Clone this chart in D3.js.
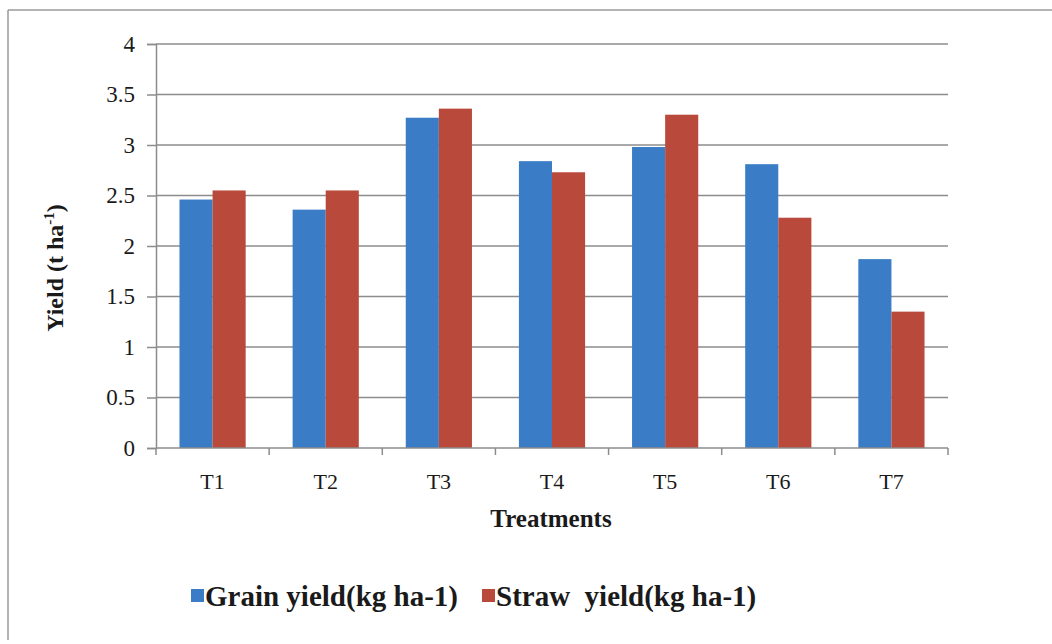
<!DOCTYPE html>
<html>
<head>
<meta charset="utf-8">
<script src="https://cdn.jsdelivr.net/npm/d3@7"></script>
<style>
  html, body { margin: 0; padding: 0; background: #ffffff; }
  svg text { font-family: "Liberation Serif", "Times New Roman", serif; fill: #1a1a1a; }
</style>
</head>
<body>
<svg id="chart" width="1052" height="644"></svg>
<script>
// Treatments and yields (t/ha)
const treatments = ["T1", "T2", "T3", "T4", "T5", "T6", "T7"];
const grainYield = [2.46, 2.36, 3.27, 2.84, 2.98, 2.81, 1.87];
const strawYield = [2.55, 2.55, 3.36, 2.73, 3.30, 2.28, 1.35];
const seriesNames = ["Grain yield(kg ha-1)", "Straw  yield(kg ha-1)"];
const seriesColors = ["#3b7cc7", "#b8493b"];
const yTicks = [0, 0.5, 1, 1.5, 2, 2.5, 3, 3.5, 4];

const svg = d3.select("#chart");
const margin = { left: 156, right: 104, top: 44, bottom: 196 };
const W = 1052, H = 644;
const plotW = W - margin.left - margin.right;
const plotH = H - margin.top - margin.bottom;

// outer frame
svg.append("line").attr("x1", 8).attr("x2", W).attr("y1", 10).attr("y2", 10)
  .attr("stroke", "#9a9a9a").attr("stroke-width", 1.5);
svg.append("line").attr("x1", 8).attr("x2", 8).attr("y1", 10).attr("y2", 640)
  .attr("stroke", "#9a9a9a").attr("stroke-width", 1.5);

const g = svg.append("g").attr("transform", `translate(${margin.left},${margin.top})`);

const x0 = d3.scaleBand().domain(treatments).range([0, plotW]).paddingInner(0.415).paddingOuter(0.2075);
const x1 = d3.scaleBand().domain([0, 1]).range([0, x0.bandwidth()]);
const y = d3.scaleLinear().domain([0, 4]).range([plotH, 0]);

// horizontal gridlines
g.append("g").selectAll("line").data(yTicks.filter(d => d > 0)).join("line")
  .attr("x1", 0).attr("x2", plotW)
  .attr("y1", d => y(d)).attr("y2", d => y(d))
  .attr("stroke", "#8c8c8c").attr("stroke-width", 1.5);

// y axis
const yAxis = g.append("g").call(d3.axisLeft(y).tickValues(yTicks).tickSize(9).tickPadding(12).tickFormat(d3.format("")));
yAxis.select(".domain").attr("stroke", "#8c8c8c").attr("stroke-width", 1.5);
yAxis.selectAll(".tick line").attr("stroke", "#8c8c8c").attr("stroke-width", 1.5);
yAxis.selectAll(".tick text").attr("font-size", 23).attr("fill", "#1a1a1a");

// bars
const groups = g.append("g").selectAll("g").data(treatments).join("g")
  .attr("transform", d => `translate(${x0(d)},0)`);
groups.selectAll("rect").data((d, i) => [grainYield[i], strawYield[i]]).join("rect")
  .attr("x", (d, j) => x1(j))
  .attr("width", x1.bandwidth())
  .attr("y", d => y(d))
  .attr("height", d => plotH - y(d))
  .attr("fill", (d, j) => seriesColors[j]);

// x axis with ticks at category boundaries
const step = plotW / treatments.length;
const xAxisG = g.append("g").attr("transform", `translate(0,${plotH})`);
xAxisG.append("line").attr("x1", 0).attr("x2", plotW).attr("y1", 0).attr("y2", 0)
  .attr("stroke", "#8c8c8c").attr("stroke-width", 1.5);
xAxisG.selectAll("line.tk").data(d3.range(treatments.length + 1)).join("line")
  .attr("class", "tk")
  .attr("x1", i => i * step).attr("x2", i => i * step)
  .attr("y1", 0).attr("y2", 7)
  .attr("stroke", "#8c8c8c").attr("stroke-width", 1.5);
xAxisG.selectAll("text").data(treatments).join("text")
  .attr("x", d => x0(d) + x0.bandwidth() / 2)
  .attr("y", 41)
  .attr("text-anchor", "middle")
  .attr("font-size", 22)
  .text(d => d);

// axis titles
svg.append("text")
  .attr("x", margin.left + plotW / 2 - 1).attr("y", 527)
  .attr("text-anchor", "middle").attr("font-size", 25).attr("font-weight", "bold")
  .text("Treatments");

const yTitle = svg.append("text")
  .attr("transform", "translate(63,268) rotate(-90)")
  .attr("text-anchor", "middle").attr("font-size", 24).attr("font-weight", "bold");
yTitle.append("tspan").text("Yield (t ha");
yTitle.append("tspan").attr("font-size", 15).attr("dy", -9).text("-1");
yTitle.append("tspan").attr("dy", 9).text(")");

// legend
const legendX = [191, 482];
const legend = svg.append("g").selectAll("g").data(seriesNames).join("g")
  .attr("transform", (d, i) => `translate(${legendX[i]},597)`);
legend.append("rect").attr("x", 0).attr("y", -8).attr("width", 13).attr("height", 13)
  .attr("fill", (d, i) => seriesColors[i]);
legend.append("text").attr("x", 14).attr("y", 9)
  .attr("font-size", 29).attr("font-weight", "bold")
  .attr("xml:space", "preserve").style("white-space", "pre")
  .text(d => d);
</script>
</body>
</html>
